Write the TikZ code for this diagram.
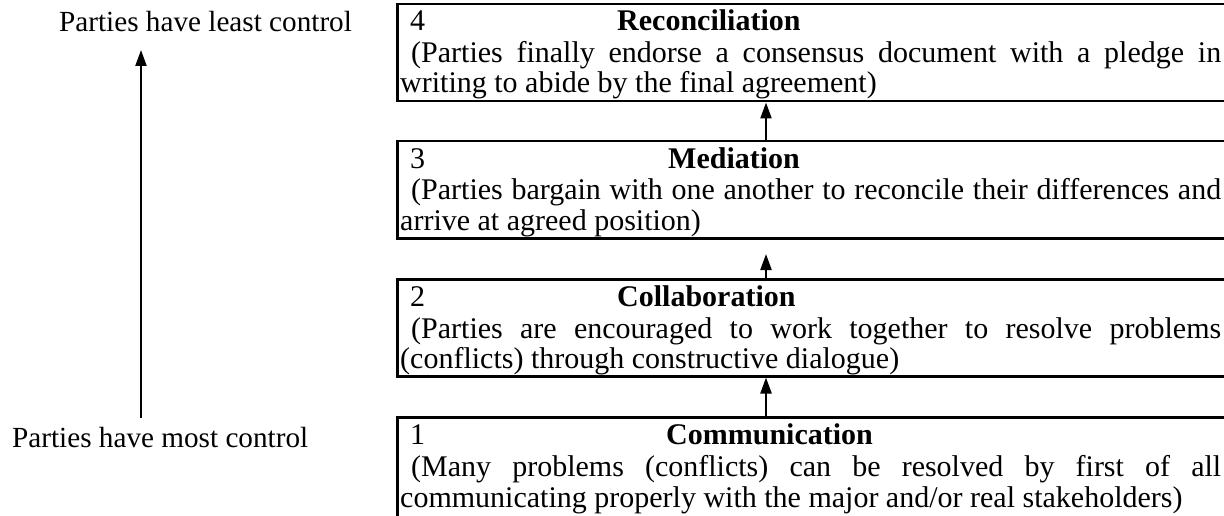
\documentclass[tikz,border=0pt]{standalone}
\usepackage{fontspec}
\setmainfont{Liberation Serif}
\usetikzlibrary{arrows.meta}
\begin{document}
\begin{tikzpicture}[x=1pt,y=-1pt,
  boxst/.style={draw=black,line width=2.5pt,rectangle,inner sep=0pt,anchor=north west,minimum width=840pt,minimum height=97pt},
  txt/.style={inner sep=0pt,anchor=base west,font=\fontsize{30}{34}\selectfont},
  lbl/.style={inner sep=0pt,anchor=base west,font=\fontsize{29.2}{34}\selectfont},
  arr/.style={line width=2.2pt,-{Triangle[length=16pt,width=11pt]}}]
\useasboundingbox (0,0) rectangle (1224,516);
\clip (0,0) rectangle (1224,516);
% boxes
\node[boxst] (b4) at (396,3) {};
\node[boxst] (b3) at (396,140) {};
\node[boxst] (b2) at (396,278) {};
\node[boxst,minimum height=120pt] (b1) at (396,416) {};
% box 4
\node[txt] (h4n) at (410,31) {4};
\node[txt] (h4) at (617,31) {\textbf{Reconciliation}};
\node[txt] (t4a) at (400,63) {\hbox to 821pt{\hspace{11pt}(Parties finally endorse a consensus document with a pledge in}};
\node[txt] (t4b) at (400,93) {writing to abide by the final agreement)};
% box 3
\node[txt] (h3n) at (410,168) {3};
\node[txt] (h3) at (668,168) {\textbf{Mediation}};
\node[txt] (t3a) at (400,200) {\hbox to 821pt{\hspace{11pt}(Parties bargain with one another to reconcile their differences and}};
\node[txt] (t3b) at (400,230) {arrive at agreed position)};
% box 2
\node[txt] (h2n) at (410,306) {2};
\node[txt] (h2) at (617,306) {\textbf{Collaboration}};
\node[txt] (t2a) at (400,338) {\hbox to 821pt{\hspace{11pt}(Parties are encouraged to work together to resolve problems}};
\node[txt] (t2b) at (400,368) {(conflicts) through constructive dialogue)};
% box 1
\node[txt] (h1n) at (410,444) {1};
\node[txt] (h1) at (666,444) {\textbf{Communication}};
\node[txt] (t1a) at (400,476) {\hbox to 821pt{\hspace{11pt}(Many problems (conflicts) can be resolved by first of all}};
\node[txt] (t1b) at (400,507) {communicating properly with the major and/or real stakeholders)};
% left labels
\node[lbl] (least) at (59,32) {Parties have least control};
\node[lbl] (most) at (12,447) {Parties have most control};
% arrows
\coordinate (ax) at (766,0);
\coordinate (t32) at (766,254);
\coordinate (la) at (141,418);
\coordinate (lb) at (141,50);
\draw[arr] (b3.north -| ax) -- (b4.south -| ax);
\draw[arr] (b2.north -| ax) -- (t32);
\draw[arr] (b1.north -| ax) -- (b2.south -| ax);
\draw[arr] (la) -- (lb);
\end{tikzpicture}
\end{document}
